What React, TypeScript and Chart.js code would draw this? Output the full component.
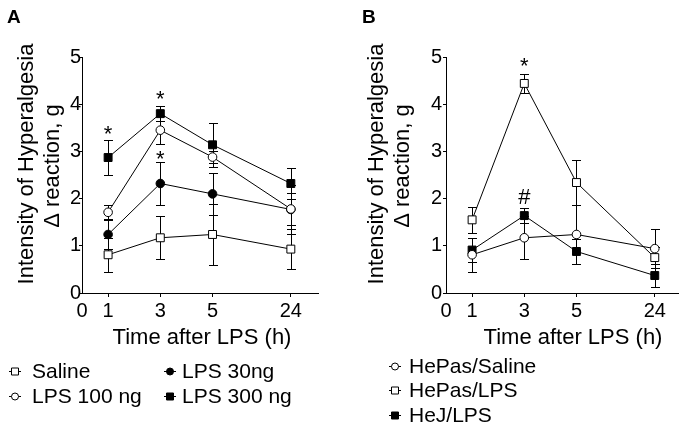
import React, { useEffect, useRef } from 'react';
import { Chart, registerables } from 'chart.js';

Chart.register(...registerables);

const FONT = "'Liberation Sans', Arial, Helvetica, sans-serif";

// ---------- data ----------
const timeLabels = ['0', '1', '3', '5', '24'];
const timesHours = [1, 3, 5, 24];
const yTickValues = [0, 1, 2, 3, 4, 5];

// Panel A
const salineA = [0.81, 1.17, 1.24, 0.93];
const salineAErr = [0.36, 0.46, 0.64, 0.43];
const lps100 = [1.71, 3.45, 2.88, 1.78];
const lps100Err = [0.15, 0.3, 0.12, 0.33];
const lps30 = [1.24, 2.32, 2.1, 1.77];
const lps30Err = [0.31, 0.45, 0.44, 0.51];
const lps300 = [2.87, 3.8, 3.14, 2.32];
const lps300Err = [0.37, 0.16, 0.47, 0.32];

// Panel B
const hepasSaline = [0.81, 1.17, 1.24, 0.94];
const hepasSalineErr = [0.36, 0.46, 0.62, 0.42];
const hepasLps = [1.55, 4.44, 2.34, 0.75];
const hepasLpsErr = [0.27, 0.21, 0.48, 0.23];
const hejLps = [0.91, 1.64, 0.88, 0.37];
const hejLpsErr = [0.25, 0.16, 0.26, 0.24];

// significance marks (time, value, symbol)
const marksATime = [1, 3, 3];
const marksAValue = [3.5, 4.24, 2.96];
const marksASymbol = ['*', '*', '*'];
const marksBTime = [3, 3];
const marksBValue = [4.94, 2.05];
const marksBSymbol = ['*', '#'];

const yTitleLines = ['Intensity of Hyperalgesia', '\u0394 reaction, g'];
const xTitle = 'Time after LPS (h)';

// broken time axis: hours up to 5 are linear, 24 h is drawn 3 units after 5 h
function axisPos(h: number): number {
  return h <= 5 ? h : 8;
}

type Series = {
  label: string;
  values: number[];
  errors: number[];
  style: 'rect' | 'circle';
  filled: boolean;
};

type LegendItem = { series: number; mx: number; tx: number; y: number };

type PanelCfg = {
  letter: string;
  letterX: number;
  series: Series[];
  marksTime: number[];
  marksValue: number[];
  marksSymbol: string[];
  yTitlePos: { x: number; y: number }[];
  xTitlePos: { x: number; y: number };
  yAxisWidth: number;
  rightPad: number;
  xMax: number;
  yTickPadding: number;
  legend: LegendItem[];
};

const seriesA: Series[] = [
  { label: 'Saline', values: salineA, errors: salineAErr, style: 'rect', filled: false },
  { label: 'LPS 100 ng', values: lps100, errors: lps100Err, style: 'circle', filled: false },
  { label: 'LPS 30ng', values: lps30, errors: lps30Err, style: 'circle', filled: true },
  { label: 'LPS 300 ng', values: lps300, errors: lps300Err, style: 'rect', filled: true },
];

const seriesB: Series[] = [
  { label: 'HePas/Saline', values: hepasSaline, errors: hepasSalineErr, style: 'circle', filled: false },
  { label: 'HePas/LPS', values: hepasLps, errors: hepasLpsErr, style: 'rect', filled: false },
  { label: 'HeJ/LPS', values: hejLps, errors: hejLpsErr, style: 'rect', filled: true },
];

const panelA: PanelCfg = {
  letter: 'A',
  letterX: 7,
  series: seriesA,
  marksTime: marksATime,
  marksValue: marksAValue,
  marksSymbol: marksASymbol,
  yTitlePos: [
    { x: 27, y: 164 },
    { x: 53, y: 166 },
  ],
  xTitlePos: { x: 202, y: 338 },
  yAxisWidth: 82,
  rightPad: 27,
  xMax: 9.04,
  yTickPadding: -2,
  legend: [
    { series: 0, mx: 15, tx: 32, y: 371 },
    { series: 2, mx: 170, tx: 182, y: 371 },
    { series: 1, mx: 15, tx: 32, y: 396 },
    { series: 3, mx: 170, tx: 182, y: 396 },
  ],
};

const panelB: PanelCfg = {
  letter: 'B',
  letterX: 17,
  series: seriesB,
  marksTime: marksBTime,
  marksValue: marksBValue,
  marksSymbol: marksBSymbol,
  yTitlePos: [
    { x: 32, y: 164 },
    { x: 58, y: 166 },
  ],
  xTitlePos: { x: 228, y: 338 },
  yAxisWidth: 101,
  rightPad: 11,
  xMax: 8.89,
  yTickPadding: 1,
  legend: [
    { series: 0, mx: 50, tx: 64, y: 366 },
    { series: 1, mx: 50, tx: 64, y: 390 },
    { series: 2, mx: 50, tx: 64, y: 415 },
  ],
};

const CANVAS_H = 430;
const PLOT_TOP = 57;
const PLOT_BOTTOM = 293;

function drawMarker(ctx: CanvasRenderingContext2D, s: Series, x: number, y: number, size: number) {
  ctx.save();
  ctx.beginPath();
  if (s.style === 'rect') {
    ctx.rect(x - size / 2, y - size / 2, size, size);
  } else {
    ctx.arc(x, y, size / 2, 0, Math.PI * 2);
  }
  ctx.fillStyle = s.filled ? '#000' : '#fff';
  ctx.fill();
  ctx.lineWidth = 1;
  ctx.strokeStyle = '#000';
  ctx.stroke();
  ctx.restore();
}

function makeOverlay(cfg: PanelCfg) {
  return {
    id: 'overlay' + cfg.letter,
    beforeDatasetsDraw(chart: any) {
      const ctx: CanvasRenderingContext2D = chart.ctx;
      const yS = chart.scales.y;
      ctx.save();
      ctx.strokeStyle = '#000';
      ctx.lineWidth = 1;
      cfg.series.forEach((s, di) => {
        const meta = chart.getDatasetMeta(di);
        s.values.forEach((v, i) => {
          const el = meta.data[i];
          if (!el) return;
          const x = Math.round(el.x) + 0.5;
          const yt = Math.round(yS.getPixelForValue(v + s.errors[i])) + 0.5;
          const yb = Math.round(yS.getPixelForValue(v - s.errors[i])) + 0.5;
          ctx.beginPath();
          ctx.moveTo(x, yt);
          ctx.lineTo(x, yb);
          ctx.moveTo(x - 4.5, yt);
          ctx.lineTo(x + 4.5, yt);
          ctx.moveTo(x - 4.5, yb);
          ctx.lineTo(x + 4.5, yb);
          ctx.stroke();
        });
      });
      ctx.restore();
    },
    afterDraw(chart: any) {
      const ctx: CanvasRenderingContext2D = chart.ctx;
      const xS = chart.scales.x;
      const yS = chart.scales.y;
      ctx.save();
      ctx.fillStyle = '#000';

      // panel letter
      ctx.font = `bold 19px ${FONT}`;
      ctx.textAlign = 'left';
      ctx.textBaseline = 'alphabetic';
      ctx.fillText(cfg.letter, cfg.letterX, 23);

      // significance marks
      cfg.marksTime.forEach((t, i) => {
        const sym = cfg.marksSymbol[i];
        const px = xS.getPixelForValue(axisPos(t));
        const py = yS.getPixelForValue(cfg.marksValue[i]);
        const fs = 22;
        ctx.font = `${fs}px ${FONT}`;
        ctx.textAlign = 'center';
        ctx.textBaseline = 'alphabetic';
        const k = sym === '#' ? 0.36 : 0.58;
        ctx.fillText(sym, px, py + k * fs);
      });

      // y title (two rotated lines)
      ctx.font = `22px ${FONT}`;
      ctx.textAlign = 'center';
      ctx.textBaseline = 'middle';
      yTitleLines.forEach((line, i) => {
        const p = cfg.yTitlePos[i];
        ctx.save();
        ctx.translate(p.x, p.y);
        ctx.rotate(-Math.PI / 2);
        ctx.fillText(line, 0, 0);
        ctx.restore();
      });

      // x title
      ctx.font = `22px ${FONT}`;
      ctx.fillText(xTitle, cfg.xTitlePos.x, cfg.xTitlePos.y);

      // legend
      cfg.legend.forEach((item) => {
        const s = cfg.series[item.series];
        ctx.beginPath();
        ctx.strokeStyle = '#000';
        ctx.lineWidth = 1;
        ctx.moveTo(item.mx - 6, Math.round(item.y) + 0.5);
        ctx.lineTo(item.mx + 6, Math.round(item.y) + 0.5);
        ctx.stroke();
        drawMarker(ctx, s, item.mx, item.y + 0.5, 7);
        ctx.font = `21px ${FONT}`;
        ctx.textAlign = 'left';
        ctx.textBaseline = 'middle';
        ctx.fillStyle = '#000';
        ctx.fillText(s.label, item.tx, item.y + 1);
      });
      ctx.restore();
    },
  };
}

function buildChart(canvas: HTMLCanvasElement, cfg: PanelCfg) {
  const datasets = cfg.series.map((s) => ({
    label: s.label,
    data: s.values.map((v, i) => ({ x: axisPos(timesHours[i]), y: v })),
    borderColor: '#000',
    borderWidth: 1,
    backgroundColor: s.filled ? '#000' : '#fff',
    pointBackgroundColor: s.filled ? '#000' : '#fff',
    pointBorderColor: '#000',
    pointBorderWidth: 1,
    pointStyle: s.style,
    pointRadius: s.style === 'rect' ? 5.6 : 4.3,
    tension: 0,
    fill: false,
  }));

  return new Chart(canvas, {
    type: 'line',
    data: { datasets },
    plugins: [makeOverlay(cfg)],
    options: {
      animation: false,
      responsive: false,
      devicePixelRatio: 1,
      layout: { padding: { left: 0, top: PLOT_TOP, right: cfg.rightPad, bottom: 0 } },
      plugins: { legend: { display: false }, tooltip: { enabled: false } },
      scales: {
        x: {
          type: 'linear',
          min: 0,
          max: cfg.xMax,
          afterFit: (scale: any) => {
            scale.height = CANVAS_H - PLOT_BOTTOM;
          },
          afterBuildTicks: (scale: any) => {
            scale.ticks = timeLabels.map((l) => ({ value: axisPos(Number(l)) }));
          },
          ticks: {
            autoSkip: false,
            maxRotation: 0,
            padding: 2,
            color: '#000',
            font: { family: FONT, size: 20 },
            callback: (_v: any, i: number) => timeLabels[i],
          },
          grid: {
            drawOnChartArea: false,
            drawTicks: true,
            tickLength: 4,
            color: (c: any) => (c.index === 0 ? 'rgba(0,0,0,0)' : '#000'),
          },
          border: { display: true, color: '#000', width: 1 },
        },
        y: {
          type: 'linear',
          min: 0,
          max: 5,
          afterFit: (scale: any) => {
            scale.width = cfg.yAxisWidth;
          },
          afterBuildTicks: (scale: any) => {
            scale.ticks = yTickValues.map((v) => ({ value: v }));
          },
          ticks: {
            padding: cfg.yTickPadding,
            color: '#000',
            font: { family: FONT, size: 20 },
          },
          grid: { drawOnChartArea: false, drawTicks: true, tickLength: 3, color: '#000' },
          border: { display: true, color: '#000', width: 1 },
        },
      },
    },
  } as any);
}

export default function App() {
  const refA = useRef<HTMLCanvasElement>(null);
  const refB = useRef<HTMLCanvasElement>(null);

  useEffect(() => {
    Chart.defaults.font.family = FONT;
    const a = refA.current ? buildChart(refA.current, panelA) : null;
    const b = refB.current ? buildChart(refB.current, panelB) : null;
    return () => {
      a?.destroy();
      b?.destroy();
    };
  }, []);

  return (
    <div
      style={{
        position: 'fixed',
        left: 0,
        top: 0,
        width: 689,
        height: 430,
        background: '#fff',
        overflow: 'hidden',
      }}
    >
      <canvas ref={refA} width={345} height={430} style={{ position: 'absolute', left: 0, top: 0 }} />
      <canvas ref={refB} width={344} height={430} style={{ position: 'absolute', left: 345, top: 0 }} />
    </div>
  );
}
